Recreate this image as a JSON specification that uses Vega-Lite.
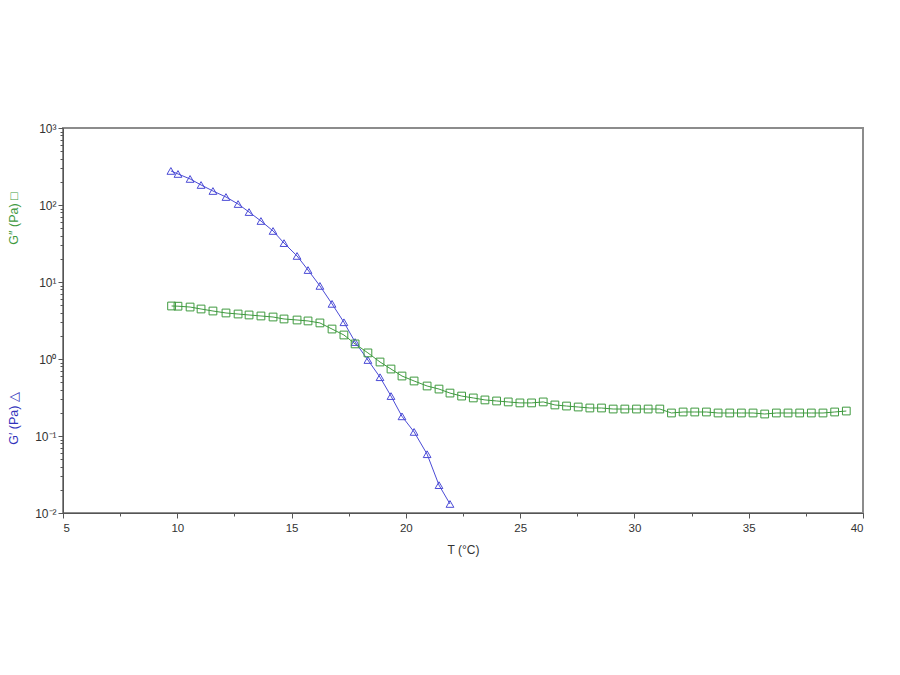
{
  "$schema": "https://vega.github.io/schema/vega-lite/v6.json",
  "width": 800,
  "height": 385,
  "autosize": {"type": "none"},
  "padding": {"left": 63, "top": 128, "right": 37, "bottom": 162},
  "background": "white",
  "config": {
    "view": {"stroke": "#8c8c8c", "strokeWidth": 2},
    "font": "Liberation Sans",
    "axis": {"grid": false, "domainColor": "#555555", "tickColor": "#555555", "labelColor": "#333333", "labelFontSize": 11.5, "titleFontWeight": "normal", "titleFontSize": 12, "titleColor": "#333333", "labelFont": "Liberation Sans", "titleFont": "Liberation Sans"}
  },
  "data": {
    "values": [
      {"T": 9.72, "modulus": 277, "series": "G'"},
      {"T": 10.03, "modulus": 253, "series": "G'"},
      {"T": 10.56, "modulus": 218, "series": "G'"},
      {"T": 11.04, "modulus": 182, "series": "G'"},
      {"T": 11.56, "modulus": 152, "series": "G'"},
      {"T": 12.13, "modulus": 127, "series": "G'"},
      {"T": 12.66, "modulus": 103, "series": "G'"},
      {"T": 13.14, "modulus": 81, "series": "G'"},
      {"T": 13.66, "modulus": 62, "series": "G'"},
      {"T": 14.19, "modulus": 46, "series": "G'"},
      {"T": 14.67, "modulus": 32, "series": "G'"},
      {"T": 15.24, "modulus": 21.8, "series": "G'"},
      {"T": 15.72, "modulus": 14.3, "series": "G'"},
      {"T": 16.24, "modulus": 8.9, "series": "G'"},
      {"T": 16.77, "modulus": 5.2, "series": "G'"},
      {"T": 17.29, "modulus": 3.0, "series": "G'"},
      {"T": 17.78, "modulus": 1.66, "series": "G'"},
      {"T": 18.34, "modulus": 0.97, "series": "G'"},
      {"T": 18.87, "modulus": 0.58, "series": "G'"},
      {"T": 19.35, "modulus": 0.33, "series": "G'"},
      {"T": 19.83, "modulus": 0.18, "series": "G'"},
      {"T": 20.36, "modulus": 0.113, "series": "G'"},
      {"T": 20.93, "modulus": 0.058, "series": "G'"},
      {"T": 21.45, "modulus": 0.023, "series": "G'"},
      {"T": 21.93, "modulus": 0.0131, "series": "G'"},
      {"T": 9.75, "modulus": 4.88, "series": "G''"},
      {"T": 10.03, "modulus": 4.85, "series": "G''"},
      {"T": 10.56, "modulus": 4.73, "series": "G''"},
      {"T": 11.04, "modulus": 4.46, "series": "G''"},
      {"T": 11.56, "modulus": 4.2, "series": "G''"},
      {"T": 12.13, "modulus": 3.96, "series": "G''"},
      {"T": 12.66, "modulus": 3.84, "series": "G''"},
      {"T": 13.14, "modulus": 3.73, "series": "G''"},
      {"T": 13.66, "modulus": 3.62, "series": "G''"},
      {"T": 14.19, "modulus": 3.51, "series": "G''"},
      {"T": 14.67, "modulus": 3.31, "series": "G''"},
      {"T": 15.24, "modulus": 3.21, "series": "G''"},
      {"T": 15.72, "modulus": 3.12, "series": "G''"},
      {"T": 16.24, "modulus": 2.94, "series": "G''"},
      {"T": 16.77, "modulus": 2.45, "series": "G''"},
      {"T": 17.29, "modulus": 2.05, "series": "G''"},
      {"T": 17.78, "modulus": 1.57, "series": "G''"},
      {"T": 18.34, "modulus": 1.2, "series": "G''"},
      {"T": 18.87, "modulus": 0.914, "series": "G''"},
      {"T": 19.35, "modulus": 0.741, "series": "G''"},
      {"T": 19.83, "modulus": 0.601, "series": "G''"},
      {"T": 20.36, "modulus": 0.518, "series": "G''"},
      {"T": 20.93, "modulus": 0.446, "series": "G''"},
      {"T": 21.45, "modulus": 0.407, "series": "G''"},
      {"T": 21.93, "modulus": 0.361, "series": "G''"},
      {"T": 22.44, "modulus": 0.33, "series": "G''"},
      {"T": 22.95, "modulus": 0.312, "series": "G''"},
      {"T": 23.46, "modulus": 0.294, "series": "G''"},
      {"T": 23.97, "modulus": 0.285, "series": "G''"},
      {"T": 24.48, "modulus": 0.277, "series": "G''"},
      {"T": 24.99, "modulus": 0.269, "series": "G''"},
      {"T": 25.5, "modulus": 0.269, "series": "G''"},
      {"T": 26.01, "modulus": 0.277, "series": "G''"},
      {"T": 26.52, "modulus": 0.253, "series": "G''"},
      {"T": 27.03, "modulus": 0.245, "series": "G''"},
      {"T": 27.54, "modulus": 0.238, "series": "G''"},
      {"T": 28.05, "modulus": 0.231, "series": "G''"},
      {"T": 28.56, "modulus": 0.231, "series": "G''"},
      {"T": 29.07, "modulus": 0.224, "series": "G''"},
      {"T": 29.58, "modulus": 0.224, "series": "G''"},
      {"T": 30.09, "modulus": 0.224, "series": "G''"},
      {"T": 30.6, "modulus": 0.224, "series": "G''"},
      {"T": 31.11, "modulus": 0.224, "series": "G''"},
      {"T": 31.62, "modulus": 0.199, "series": "G''"},
      {"T": 32.13, "modulus": 0.205, "series": "G''"},
      {"T": 32.64, "modulus": 0.205, "series": "G''"},
      {"T": 33.15, "modulus": 0.205, "series": "G''"},
      {"T": 33.66, "modulus": 0.199, "series": "G''"},
      {"T": 34.17, "modulus": 0.199, "series": "G''"},
      {"T": 34.68, "modulus": 0.199, "series": "G''"},
      {"T": 35.19, "modulus": 0.199, "series": "G''"},
      {"T": 35.7, "modulus": 0.193, "series": "G''"},
      {"T": 36.21, "modulus": 0.199, "series": "G''"},
      {"T": 36.72, "modulus": 0.199, "series": "G''"},
      {"T": 37.23, "modulus": 0.199, "series": "G''"},
      {"T": 37.74, "modulus": 0.199, "series": "G''"},
      {"T": 38.25, "modulus": 0.199, "series": "G''"},
      {"T": 38.76, "modulus": 0.205, "series": "G''"},
      {"T": 39.27, "modulus": 0.211, "series": "G''"}
    ]
  },
  "layer": [
    {
      "mark": {"type": "line", "strokeWidth": 1},
      "encoding": {
        "x": {
          "field": "T", "type": "quantitative",
          "scale": {"domain": [5, 40], "nice": false, "zero": false},
          "axis": {
            "title": "T (°C)",
            "values": [5, 6.25, 7.5, 8.75, 10, 11.25, 12.5, 13.75, 15, 16.25, 17.5, 18.75, 20, 21.25, 22.5, 23.75, 25, 26.25, 27.5, 28.75, 30, 31.25, 32.5, 33.75, 35, 36.25, 37.5, 38.75, 40],
            "labelExpr": "datum.value % 5 == 0 ? datum.label : ''",
            "labelOverlap": false,
            "labelPadding": 4,
            "tickSize": {"condition": {"test": "datum.value % 5 == 0", "value": 5}, "value": 3},
            "titlePadding": 11
          }
        },
        "y": {
          "field": "modulus", "type": "quantitative",
          "scale": {"type": "log", "domain": [0.01, 1000], "nice": false},
          "axis": {
            "title": "G′ (Pa) △",
            "titleColor": "#3333bb",
            "titleFontSize": 12.5,
            "titleAngle": -90,
            "titleX": -50,
            "titleY": 290,
            "titleAlign": "center",
            "titleBaseline": "middle",
            "values": [0.01, 0.02, 0.03, 0.04, 0.05, 0.06, 0.07, 0.08, 0.09, 0.1, 0.2, 0.3, 0.4, 0.5, 0.6, 0.7, 0.8, 0.9, 1, 2, 3, 4, 5, 6, 7, 8, 9, 10, 20, 30, 40, 50, 60, 70, 80, 90, 100, 200, 300, 400, 500, 600, 700, 800, 900, 1000],
            "labelExpr": "datum.value == 0.01 ? '10⁻²' : datum.value == 0.1 ? '10⁻¹' : datum.value == 1 ? '10⁰' : datum.value == 10 ? '10¹' : datum.value == 100 ? '10²' : datum.value == 1000 ? '10³' : ''",
            "labelOverlap": false,
            "labelFontSize": 12,
            "tickSize": {"condition": {"test": "datum.value == 0.01 || datum.value == 0.1 || datum.value == 1 || datum.value == 10 || datum.value == 100 || datum.value == 1000", "value": 5}, "value": 3}
          }
        },
        "color": {"field": "series", "type": "nominal", "scale": {"domain": ["G'", "G''"], "range": ["#4b4bd6", "#3f9a3f"]}, "legend": null}
      }
    },
    {
      "mark": {"type": "point", "filled": false, "strokeWidth": 1, "size": 60, "opacity": 1},
      "encoding": {
        "x": {"field": "T", "type": "quantitative"},
        "y": {
          "field": "modulus", "type": "quantitative",
          "axis": {"title": "G″ (Pa) □", "titleColor": "#3f9a3f", "titleFontSize": 12.5, "labels": false, "ticks": false, "domain": false, "titleAngle": -90, "titleX": -50, "titleY": 90, "titleAlign": "center", "titleBaseline": "middle", "orient": "left"}
        },
        "color": {"field": "series", "type": "nominal", "legend": null},
        "shape": {"field": "series", "type": "nominal", "scale": {"domain": ["G'", "G''"], "range": ["triangle-up", "square"]}, "legend": null}
      }
    }
  ],
  "resolve": {"axis": {"y": "independent"}}
}
